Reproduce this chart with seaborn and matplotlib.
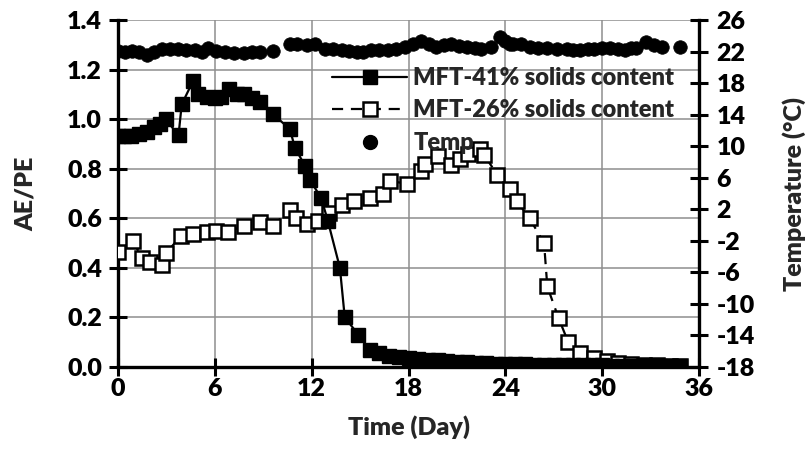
import matplotlib
matplotlib.use("Agg")
import matplotlib.pyplot as plt
import seaborn as sns
import numpy as np
from matplotlib.lines import Line2D

# ---- data ----
mft41_day = [0.0, 0.4, 0.8, 1.3, 1.8, 2.2, 2.6, 2.95, 3.75, 3.95, 4.66, 4.95, 5.5, 6.0, 6.4,
             6.9, 7.4, 7.8, 8.3, 8.8, 9.6, 10.65, 10.96, 11.6, 11.9, 12.6, 13.0, 13.75, 14.05,
             14.9, 15.6, 16.2, 16.8, 17.4, 18.0, 18.6, 19.2, 19.8, 20.4, 21.0, 21.6, 22.2,
             22.8, 23.4, 24.0, 24.6, 25.2, 25.8, 26.4, 27.0, 27.6, 28.2, 28.8, 29.4, 30.0,
             30.6, 31.2, 31.8, 32.4, 33.0, 33.6, 34.2, 34.8]
mft41_val = [0.93, 0.93, 0.93, 0.94, 0.95, 0.97, 0.98, 1.0, 0.935, 1.06, 1.155, 1.10, 1.09, 1.085,
             1.09, 1.12, 1.10, 1.10, 1.085, 1.07, 1.02, 0.96, 0.885, 0.81, 0.755, 0.68, 0.59,
             0.40, 0.20, 0.13, 0.07, 0.055, 0.045, 0.04, 0.035, 0.032, 0.03, 0.027, 0.025,
             0.022, 0.02, 0.018, 0.016, 0.014, 0.012, 0.012, 0.011, 0.01, 0.01, 0.009, 0.009,
             0.008, 0.008, 0.007, 0.007, 0.006, 0.006, 0.006, 0.005, 0.005, 0.005, 0.005, 0.005]

mft26_day = [0.0, 0.9, 1.5, 2.0, 2.75, 3.0, 3.9, 4.66, 5.5, 6.1, 6.8, 7.8, 8.8, 9.6, 10.65,
             11.0, 11.7, 12.4, 13.1, 13.9, 14.6, 15.6, 16.4, 16.85, 17.9, 18.8, 19.0, 19.8,
             20.66, 21.2, 21.7, 22.4, 22.7, 23.5, 24.3, 24.7, 25.5, 26.4, 26.6, 27.3, 27.9,
             28.6, 29.5, 30.3, 31.0, 31.8, 32.6, 33.4, 34.2, 34.8]
mft26_val = [0.465, 0.51, 0.44, 0.425, 0.41, 0.46, 0.53, 0.535, 0.545, 0.55, 0.545, 0.57, 0.585,
             0.57, 0.635, 0.60, 0.575, 0.59, 0.62, 0.655, 0.67, 0.68, 0.70, 0.75, 0.74, 0.79,
             0.82, 0.85, 0.815, 0.84, 0.86, 0.88, 0.855, 0.775, 0.72, 0.67, 0.60, 0.50, 0.325,
             0.197, 0.10, 0.056, 0.036, 0.025, 0.018, 0.012, 0.01, 0.008, 0.006, 0.005]

temp_day = [0.0, 0.45, 0.85, 1.3, 1.8, 2.2, 2.7, 3.2, 3.7, 4.2, 4.8, 5.2, 5.6, 6.1, 6.6, 7.2,
            7.8, 8.3, 8.8, 9.6, 10.65, 11.1, 11.7, 12.2, 12.8, 13.3, 13.85, 14.3, 14.8, 15.2,
            15.7, 16.2, 16.7, 17.2, 17.8, 18.3, 18.8, 19.3, 19.7, 20.2, 20.66, 21.1, 21.6,
            22.1, 22.5, 23.1, 23.65, 24.0, 24.3, 24.5, 25.0, 25.5, 26.0, 26.6, 27.2, 27.8,
            28.2, 28.6, 29.1, 29.5, 30.0, 30.5, 31.0, 31.4, 31.8, 32.1, 32.7, 33.2, 33.7, 34.8]
temp_val = [22.1, 22.0, 22.1, 21.9, 21.6, 22.0, 22.3, 22.3, 22.3, 22.2, 22.2, 22.0, 22.4, 22.1,
            22.0, 21.8, 21.8, 22.0, 22.0, 22.1, 23.0, 22.9, 22.8, 23.0, 22.3, 22.3, 22.2, 22.1,
            22.0, 21.9, 22.2, 22.2, 22.2, 22.3, 22.6, 22.9, 23.3, 23.0, 22.6, 22.8, 22.9, 22.7,
            22.6, 22.4, 22.3, 22.6, 23.9, 23.4, 23.0, 23.0, 22.9, 22.6, 22.5, 22.4, 22.3, 22.3,
            22.2, 22.2, 22.3, 22.3, 22.4, 22.5, 22.3, 22.2, 22.4, 22.5, 23.2, 22.8, 22.6, 22.6]

x_ticks = [0, 6, 12, 18, 24, 30, 36]
y_ticks = [0.0, 0.2, 0.4, 0.6, 0.8, 1.0, 1.2, 1.4]
t_ticks = [-18, -14, -10, -6, -2, 2, 6, 10, 14, 18, 22, 26]

# ---- style ----
sns.set_theme(style="white")
plt.rcParams['font.family'] = ['Lato', 'DejaVu Sans']
plt.rcParams['axes.unicode_minus'] = False

fs = 18
fs_leg = 17
fw = 'heavy'
fig = plt.figure(figsize=(8.09, 4.61), dpi=100)
ax = fig.add_axes([118/809, 1-367/461, (699-118)/809, (367-20)/461])
W, H = 581.0, 347.0

grid_c = '#8e8e8e'
ax.set_xticks(x_ticks)
ax.set_yticks(y_ticks)
ax.grid(True, color=grid_c, lw=1.1)
ax.set_axisbelow(True)

sns.lineplot(x=mft26_day, y=mft26_val, ax=ax, color='black', lw=1.6, estimator=None, sort=False,
             linestyle=(0, (5, 3.5)), marker='s', markersize=10, markerfacecolor='white',
             markeredgecolor='black', markeredgewidth=1.8, zorder=3)
sns.lineplot(x=mft41_day, y=mft41_val, ax=ax, color='black', lw=1.6, estimator=None, sort=False,
             marker='s', markersize=10, markerfacecolor='black', markeredgecolor='black',
             markeredgewidth=1.0, zorder=4)

ax.set_xlim(0, 36)
ax.set_ylim(0, 1.4)
ax.set_yticklabels([f"{v:.1f}" for v in y_ticks])
ax.set_xlabel("Time (Day)", fontsize=fs, fontweight=fw)
ax.set_ylabel("AE/PE", fontsize=fs, fontweight=fw)
ax.xaxis.set_label_coords(0.5, -(415 - 367) / H)
ax.yaxis.set_label_coords(-(118 - 37) / W, 0.5)

ax2 = ax.twinx()
sns.scatterplot(x=temp_day, y=temp_val, ax=ax2, color='black', s=95, edgecolor='black',
                linewidth=0.5, zorder=5)
ax2.set_ylim(-18, 26)
ax2.set_yticks(t_ticks)
ax2.set_yticklabels([str(t) for t in t_ticks])
ax2.set_ylabel("Temperature (°C)", fontsize=fs, fontweight=fw)
ax2.yaxis.set_label_coords(1 + (782 - 699) / W, 0.5)
ax2.grid(False)

for a in (ax, ax2):
    for s in a.spines.values():
        s.set_visible(False)
    a.tick_params(direction='inout', length=13, width=2.2, color='black',
                  labelsize=fs, labelcolor='black', pad=4)
ax.tick_params(axis='x', pad=1.5)
ax.tick_params(axis='y', pad=5)
ax2.tick_params(axis='y', pad=6)
ax.spines['left'].set_visible(True)
ax.spines['bottom'].set_visible(True)
ax2.spines['right'].set_visible(True)
for s in (ax.spines['left'], ax.spines['bottom'], ax2.spines['right']):
    s.set_linewidth(2.4)
    s.set_color('black')
ax.tick_params(left=True, bottom=True)
ax2.tick_params(right=True)
for lab in ax.get_xticklabels() + ax.get_yticklabels() + ax2.get_yticklabels():
    lab.set_fontweight(fw)

handles = [
    Line2D([], [], color='black', lw=1.6, marker='s', markersize=10, markerfacecolor='black'),
    Line2D([], [], color='black', lw=1.6, linestyle=(0, (5, 3.5)), marker='s', markersize=10,
           markerfacecolor='white', markeredgecolor='black', markeredgewidth=1.8),
    Line2D([], [], color='black', lw=0, marker='o', markersize=10),
]
labels = ["MFT-41% solids content", "MFT-26% solids content", "Temp"]
leg = ax2.legend(handles, labels, loc='upper left', bbox_to_anchor=(320/809, 1-55/461),
                 bbox_transform=fig.transFigure, frameon=False, fontsize=fs_leg, numpoints=1,
                 handlelength=3.2, handletextpad=0.25, labelspacing=0.45, borderpad=0)
for t in leg.get_texts():
    t.set_fontweight(fw)

fig.savefig("out.png", dpi=100)
